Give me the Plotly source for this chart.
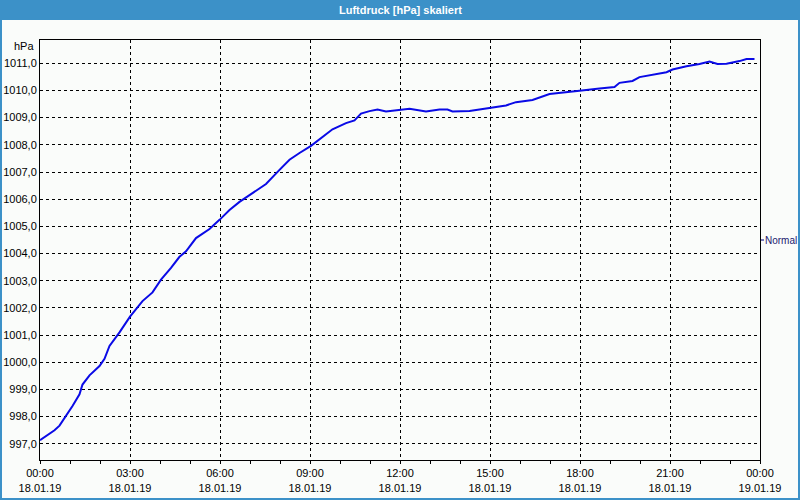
import plotly.graph_objects as go

# --- data ---
times = ["00:00","00:12","00:29","00:39","00:52","01:05","01:19","01:25","01:39","01:59",
         "02:09","02:19","02:39","03:00","03:25","03:45","04:02","04:22","04:39","04:52",
         "05:12","05:39","05:59","06:19","06:39","07:05","07:32","07:59","08:19","08:39",
         "09:02","09:45","10:12","10:29","10:42","10:59","11:15","11:32","11:55","12:19",
         "12:52","13:19","13:35","13:45","14:19","14:39","14:59","15:19","15:32","15:52",
         "16:25","16:59","17:33","17:59","18:39","19:09","19:19","19:45","19:59","20:25",
         "20:53","21:05","21:33","21:59","22:19","22:35","22:53","23:19","23:33","23:49"]
pressure = [997.13,997.28,997.50,997.67,998.02,998.39,998.82,999.18,999.52,999.86,
            1000.13,1000.60,1001.10,1001.68,1002.25,1002.57,1003.04,1003.47,1003.88,1004.08,
            1004.57,1004.90,1005.24,1005.60,1005.90,1006.24,1006.56,1007.08,1007.45,1007.70,
            1007.96,1008.57,1008.80,1008.90,1009.15,1009.24,1009.30,1009.23,1009.27,1009.33,
            1009.23,1009.30,1009.30,1009.23,1009.24,1009.29,1009.35,1009.40,1009.45,1009.57,
            1009.65,1009.87,1009.95,1009.99,1010.07,1010.13,1010.28,1010.35,1010.49,1010.59,
            1010.67,1010.77,1010.89,1010.97,1011.06,1010.97,1010.98,1011.08,1011.16,1011.16]
x_dates = ["2019-01-18 " + t for t in times]

title_text = "Luftdruck [hPa] skaliert"
unit_text = "hPa"
normal_text = "Normal"

W, H = 800, 500
ML, MR, MT, MB = 40, 40, 40, 40
PW, PH = W - ML - MR, H - MT - MB

def px(xp):
    return (xp - ML) / PW

def py(yp):
    return (H - MB - yp) / PH

blue = "#3c91c8"
bg = "#fafcfa"
font = "Liberation Sans"

fig = go.Figure()
fig.add_trace(go.Scatter(x=x_dates, y=pressure, mode="lines",
                         line=dict(color="#0a0ae6", width=2), hoverinfo="skip",
                         showlegend=False))

fig.update_layout(
    width=W, height=H,
    margin=dict(l=ML, r=MR, t=MT, b=MB, autoexpand=False),
    paper_bgcolor=bg, plot_bgcolor=bg,
    separators=",.",
    font=dict(family=font, size=11, color="#000000"),
    xaxis=dict(
        type="date", automargin=False,
        range=["2019-01-18 00:00", "2019-01-19 00:00"],
        dtick=3 * 3600000, tick0="2019-01-18 00:00",
        tickformat="%H:%M<br>%d.%m.%y",
        showgrid=True, gridcolor="#000000", griddash="3px,3px", gridwidth=1,
        showline=True, linecolor="#000000", linewidth=1, mirror=True,
        ticks="outside", ticklen=3, tickcolor="#000000",
        minor=dict(dtick=3600000, ticks="outside", ticklen=3, tickcolor="#000000", showgrid=False),
        zeroline=False,
        tickfont=dict(family=font, size=11, color="#000000"),
    ),
    yaxis=dict(
        automargin=False,
        range=[996.405, 1011.856],
        dtick=1, tick0=997,
        tickformat=".1f",
        showgrid=True, gridcolor="#000000", griddash="3px,3px", gridwidth=1,
        showline=True, linecolor="#000000", linewidth=1, mirror=True,
        ticks="", zeroline=False,
        tickfont=dict(family=font, size=11, color="#000000"),
    ),
    shapes=[
        # title bar
        dict(type="rect", xref="paper", yref="paper", x0=px(0), x1=px(W), y0=py(20), y1=py(0),
             fillcolor=blue, line=dict(width=0), layer="above"),
        # borders
        dict(type="rect", xref="paper", yref="paper", x0=px(0), x1=px(2), y0=py(H), y1=py(0),
             fillcolor=blue, line=dict(width=0), layer="above"),
        dict(type="rect", xref="paper", yref="paper", x0=px(W - 2), x1=px(W), y0=py(H), y1=py(0),
             fillcolor=blue, line=dict(width=0), layer="above"),
        dict(type="rect", xref="paper", yref="paper", x0=px(0), x1=px(W), y0=py(H), y1=py(H - 2),
             fillcolor=blue, line=dict(width=0), layer="above"),
        # Normal marker tick
        dict(type="line", xref="paper", yref="paper", x0=px(761), x1=px(765), y0=py(240), y1=py(240),
             line=dict(color="#000080", width=1, dash="dot")),
    ],
    annotations=[
        dict(text="<b>" + title_text + "</b>", xref="paper", yref="paper",
             x=px(400), y=py(10), xanchor="center", yanchor="middle", showarrow=False,
             font=dict(family=font, size=11, color="#ffffff")),
        dict(text=unit_text, xref="paper", yref="paper",
             x=px(36), y=py(46), xanchor="right", yanchor="middle", showarrow=False,
             font=dict(family=font, size=11, color="#000000")),
        dict(text=normal_text, xref="paper", yref="paper",
             x=px(763), y=py(240), xanchor="left", yanchor="middle", showarrow=False,
             font=dict(family=font, size=10, color="#1a1a70")),
    ],
)

fig.write_html("out.html")
